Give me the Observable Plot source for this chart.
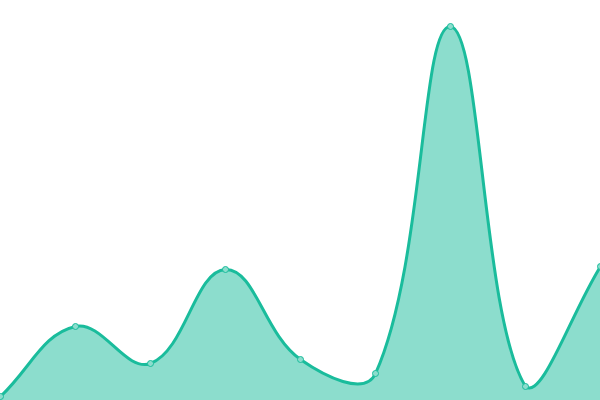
<!DOCTYPE html>
<html>
<head>
<meta charset="utf-8">
<script src="https://cdn.jsdelivr.net/npm/d3@7"></script>
<script src="https://cdn.jsdelivr.net/npm/@observablehq/plot@0.6"></script>
<style>
html,body{margin:0;padding:0;background:#fff;}
</style>
</head>
<body>
<div id="chart"></div>
<script>
const indices = [0, 1, 2, 3, 4, 5, 6, 7, 8];
const values = [4, 74, 37, 131, 41, 27, 374, 14, 134];

const W = 600, H = 400;
const data = indices.map((i, k) => ({i, v: values[k]}));

// Spline with tension 0.4 (distance-weighted control points), control points capped to the plot area
function splineCurve(context) {
  const t = 0.4;
  return {
    _line: NaN,
    areaStart() { this._line = 0; },
    areaEnd() { this._line = NaN; },
    lineStart() { this._pts = []; },
    point(x, y) { this._pts.push([+x, +y]); },
    lineEnd() {
      const p = this._pts, n = p.length;
      if (n) {
        const cps = p.map((cur, i) => {
          const prev = p[i - 1] || cur, next = p[i + 1] || cur;
          const d01 = Math.hypot(cur[0] - prev[0], cur[1] - prev[1]);
          const d12 = Math.hypot(next[0] - cur[0], next[1] - cur[1]);
          let s01 = d01 / (d01 + d12), s12 = d12 / (d01 + d12);
          if (!isFinite(s01)) s01 = 0;
          if (!isFinite(s12)) s12 = 0;
          const fa = t * s01, fb = t * s12;
          const dx = next[0] - prev[0], dy = next[1] - prev[1];
          const cl = (v, m) => Math.max(0, Math.min(m, v));
          return {
            pre: [cl(cur[0] - fa * dx, W), cl(cur[1] - fa * dy, H)],
            nxt: [cl(cur[0] + fb * dx, W), cl(cur[1] + fb * dy, H)]
          };
        });
        if (this._line) context.lineTo(p[0][0], p[0][1]);
        else context.moveTo(p[0][0], p[0][1]);
        for (let i = 1; i < n; i++) {
          const a = cps[i - 1].nxt, b = cps[i].pre;
          context.bezierCurveTo(a[0], a[1], b[0], b[1], p[i][0], p[i][1]);
        }
      }
      if (this._line || (this._line !== 0 && n === 1)) context.closePath();
      this._line = 1 - this._line;
    }
  };
}

const chart = Plot.plot({
  width: W,
  height: H,
  margin: 0,
  x: {domain: [0, 8], axis: null},
  y: {domain: [0, 400], axis: null},
  marks: [
    Plot.areaY(data, {x: "i", y: "v", curve: splineCurve, fill: "#1abc9c", fillOpacity: 0.5}),
    Plot.lineY(data, {x: "i", y: "v", curve: splineCurve, stroke: "#1abc9c", strokeWidth: 3}),
    Plot.dot(data, {x: "i", y: "v", r: 3, fill: "#8cddcd", stroke: "#1abc9c", strokeWidth: 1})
  ]
});
document.getElementById("chart").appendChild(chart);
</script>
</body>
</html>
